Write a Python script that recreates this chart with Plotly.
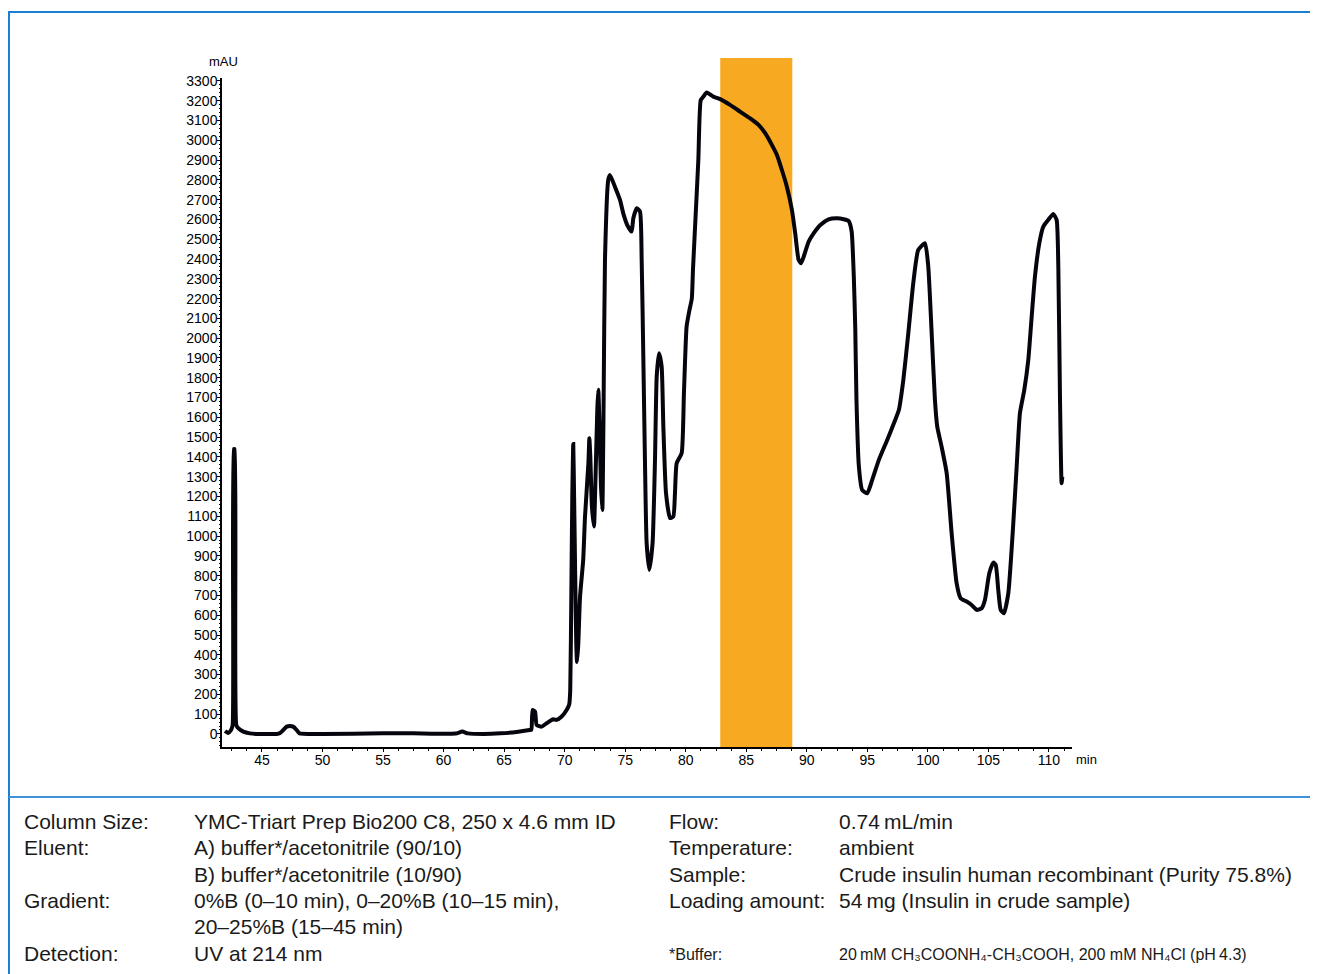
import plotly.graph_objects as go

# ---------------- data ----------------
time_min = [
    41.95, 42.2, 42.45, 42.58, 42.68, 42.74, 42.88, 43.04, 43.46, 44.0, 44.5,
    46.2, 46.5, 46.76, 47.04, 47.3, 47.58, 47.86, 48.1, 50.0, 55.0, 57.5, 59.0,
    61.0, 61.55, 62.0, 63.3, 64.7, 66.03, 67.1, 67.25, 67.35, 67.55, 67.69,
    68.1, 68.51, 69.06, 69.34, 69.75, 70.16, 70.38, 70.46, 70.55, 70.63, 70.71,
    70.78, 70.87, 70.96, 71.02, 71.12, 71.27, 71.53, 71.68, 71.96, 72.04, 72.12,
    72.25, 72.42, 72.55, 72.7, 72.78, 72.88, 73.0, 73.11, 73.22, 73.33, 73.6,
    73.74, 74.15, 74.57, 74.84, 75.17, 75.53, 75.67, 75.95, 76.22, 76.36, 76.5,
    76.63, 76.77, 76.99, 77.26, 77.46, 77.6, 77.79, 78.01, 78.15, 78.37, 78.7,
    78.97, 79.11, 79.25, 79.66, 79.85, 80.07, 80.3, 80.5, 80.6, 80.8, 81.04,
    81.24, 81.46, 81.73, 82.28, 82.84, 83.66, 84.49, 85.32, 86.01, 86.56, 87.11,
    87.53, 87.94, 88.35, 88.77, 89.04, 89.32, 89.52, 89.74, 90.15, 90.56, 91.12,
    91.8, 92.5, 93.05, 93.46, 93.7, 93.88, 94.0, 94.1, 94.3, 94.57, 94.99, 95.4,
    95.95, 96.64, 97.19, 97.6, 97.97, 98.38, 98.79, 99.2, 99.76, 100.03, 100.31,
    100.58, 100.77, 101.13, 101.55, 101.96, 102.37, 102.7, 103.2, 103.61, 104.03,
    104.44, 104.71, 105.07, 105.4, 105.6, 105.81, 106.01, 106.28, 106.64, 107.0,
    107.33, 107.6, 107.96, 108.29, 108.57, 108.84, 109.2, 109.53, 109.94, 110.35,
    110.63, 110.77, 110.91, 111.04, 111.1,
]
absorbance_mau = [
    15, 5, 20, 45, 1440, 1440, 45, 29, 12, 3, 0,
    0, 5, 20, 37, 40, 37, 20, 3, 0, 3, 3, 1,
    2, 12, 3, 0, 3, 10, 20, 22, 121, 113, 45,
    37, 54, 74, 71, 88, 121, 150, 220, 700, 1200, 1465,
    1200, 800, 450, 364, 450, 694, 879, 1098, 1368, 1494, 1400,
    1150, 1048, 1300, 1650, 1739, 1550, 1250, 1132, 1700, 2396, 2800,
    2825, 2766, 2699, 2631, 2572, 2539, 2606, 2657, 2640, 2396, 1890,
    1385, 964, 829, 964, 1385, 1806, 1924, 1856, 1553, 1217, 1091,
    1098, 1217, 1368, 1418, 1722, 2058, 2140, 2200, 2350, 2600, 2901,
    3204, 3221, 3242, 3221, 3208, 3179, 3145, 3111, 3078, 3036, 2977,
    2926, 2850, 2766, 2648, 2530, 2396, 2379, 2412, 2488, 2530, 2572,
    2601, 2606, 2601, 2592, 2540, 2311, 2050, 1688, 1351, 1233, 1216, 1284,
    1385, 1486, 1570, 1637, 1789, 2025, 2278, 2446, 2480, 2362, 2025,
    1688, 1553, 1452, 1318, 1014, 762, 686, 669, 652, 627,
    635, 677, 812, 866, 854, 728, 627, 610, 711, 1014,
    1351, 1621, 1739, 1890, 2109, 2311, 2480, 2564, 2598, 2628,
    2598, 2362, 1688, 1267, 1300,
]

x_tick_values = [45, 50, 55, 60, 65, 70, 75, 80, 85, 90, 95, 100, 105, 110]
y_tick_values = list(range(0, 3301, 100))

fraction_start = 82.85   # collected fraction (orange band), min
fraction_end = 88.8

conditions_left = [
    ("Column Size:", "YMC-Triart Prep Bio200 C8, 250 x 4.6 mm ID"),
    ("Eluent:", "A) buffer*/acetonitrile (90/10)"),
    ("", "B) buffer*/acetonitrile (10/90)"),
    ("Gradient:", "0%B (0\u201310 min), 0\u201320%B (10\u201315 min),"),
    ("", "20\u201325%B (15\u201345 min)"),
    ("Detection:", "UV at 214 nm"),
]
conditions_right = [
    ("Flow:", "0.74\u2009mL/min"),
    ("Temperature:", "ambient"),
    ("Sample:", "Crude insulin human recombinant (Purity 75.8%)"),
    ("Loading amount:", "54\u2009mg (Insulin in crude sample)"),
]
buffer_note = ("*Buffer:",
               "20\u2009mM CH\u2083COONH\u2084-CH\u2083COOH, 200 mM NH\u2084Cl (pH\u20094.3)")

# ---------------- layout geometry (page pixels; page body has 8px margin) ----------------
OFF = 8
W, H = 1318 - OFF, 974 - OFF
PL, PR, PT, PB = 222 - OFF, 1072 - OFF, 78 - OFF, 747 - OFF


def pxx(x):
    return (x - OFF - PL) / (PR - PL)


def pxy(y):
    return (PB - (y - OFF)) / (PB - PT)


FONT = "Liberation Sans, Arial, Helvetica, sans-serif"
BLUE = "#1b7fd3"
TXT = "#1a1a1a"

fig = go.Figure()
fig.add_trace(go.Scatter(
    x=time_min, y=absorbance_mau, mode="lines",
    line=dict(color="#05050d", width=4, shape="spline", smoothing=0.5),
    hoverinfo="skip", showlegend=False,
))

shapes = [
    dict(type="rect", xref="x", yref="paper",
         x0=fraction_start, x1=fraction_end, y0=0, y1=pxy(58),
         fillcolor="#F8A922", line=dict(width=0), layer="below"),
    # frame lines
    dict(type="line", xref="paper", yref="paper",
         x0=pxx(9), x1=pxx(1320), y0=pxy(12), y1=pxy(12),
         line=dict(color=BLUE, width=2)),
    dict(type="line", xref="paper", yref="paper",
         x0=pxx(9), x1=pxx(9), y0=pxy(11), y1=pxy(976),
         line=dict(color=BLUE, width=2)),
    dict(type="line", xref="paper", yref="paper",
         x0=pxx(9), x1=pxx(1320), y0=pxy(797), y1=pxy(797),
         line=dict(color="#3d92d8", width=2)),
]

annotations = [
    dict(text="mAU", x=pxx(223), y=pxy(61), xref="paper", yref="paper",
         showarrow=False, xanchor="center", yanchor="middle",
         font=dict(family=FONT, size=13, color="black")),
    dict(text="min", x=pxx(1074), y=pxy(759), xref="paper", yref="paper",
         showarrow=False, xanchor="left", yanchor="middle",
         font=dict(family=FONT, size=13, color="black")),
]

row_y = [821, 847, 874, 900, 927, 953]
for (lab, val), yy in zip(conditions_left, row_y):
    if lab:
        annotations.append(dict(text=lab, x=pxx(22), y=pxy(yy), xref="paper", yref="paper",
                                showarrow=False, xanchor="left", yanchor="middle",
                                font=dict(family=FONT, size=21, color=TXT)))
    annotations.append(dict(text=val, x=pxx(192), y=pxy(yy), xref="paper", yref="paper",
                            showarrow=False, xanchor="left", yanchor="middle",
                            font=dict(family=FONT, size=21, color=TXT)))
for (lab, val), yy in zip(conditions_right, row_y):
    annotations.append(dict(text=lab, x=pxx(667), y=pxy(yy), xref="paper", yref="paper",
                            showarrow=False, xanchor="left", yanchor="middle",
                            font=dict(family=FONT, size=21, color=TXT)))
    annotations.append(dict(text=val, x=pxx(837), y=pxy(yy), xref="paper", yref="paper",
                            showarrow=False, xanchor="left", yanchor="middle",
                            font=dict(family=FONT, size=21, color=TXT)))
annotations.append(dict(text=buffer_note[0], x=pxx(667), y=pxy(955), xref="paper", yref="paper",
                        showarrow=False, xanchor="left", yanchor="middle",
                        font=dict(family=FONT, size=16, color=TXT)))
annotations.append(dict(text=buffer_note[1], x=pxx(837), y=pxy(955), xref="paper", yref="paper",
                        showarrow=False, xanchor="left", yanchor="middle",
                        font=dict(family=FONT, size=16, color=TXT)))

fig.update_layout(
    width=W, height=H, autosize=False,
    margin=dict(l=PL, r=W - PR, t=PT, b=H - PB, pad=0),
    paper_bgcolor="white", plot_bgcolor="white",
    font=dict(family=FONT, color="black"),
    shapes=shapes, annotations=annotations,
    xaxis=dict(
        range=[41.7, 111.9], tickmode="array", tickvals=x_tick_values,
        ticktext=[str(v) for v in x_tick_values],
        showline=True, linecolor="black", linewidth=1.5,
        ticks="outside", ticklen=3, tickcolor="black", tickwidth=1,
        ticklabelstandoff=-4,
        minor=dict(dtick=1.25, tick0=45, ticks="outside", ticklen=2, tickcolor="black"),
        showgrid=False, zeroline=False,
        tickfont=dict(family=FONT, size=14, color="black"),
    ),
    yaxis=dict(
        range=[-66, 3315], tickmode="array", tickvals=y_tick_values,
        ticktext=[str(v) for v in y_tick_values],
        showline=True, linecolor="black", linewidth=1.5,
        ticks="outside", ticklen=3, tickcolor="black", tickwidth=1,
        ticklabelstandoff=-3,
        minor=dict(dtick=20, tick0=0, ticks="outside", ticklen=1.5, tickcolor="black"),
        showgrid=False, zeroline=False,
        tickfont=dict(family=FONT, size=14, color="black"),
    ),
)

fig.write_html("out.html")
